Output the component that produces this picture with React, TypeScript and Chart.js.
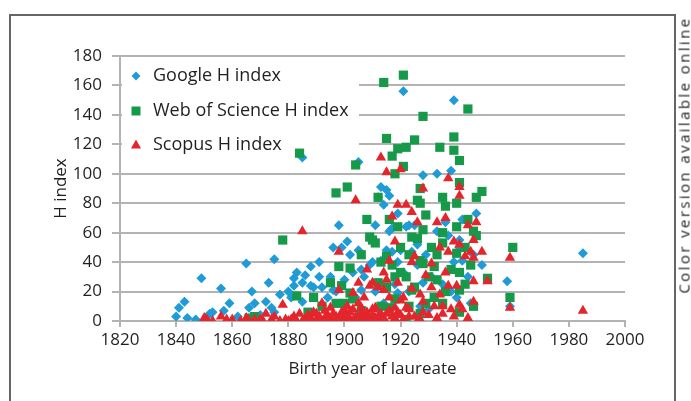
import { useEffect, useRef } from 'react';
import { Chart, registerables } from 'chart.js';

Chart.register(...registerables);

const LEGEND_LABELS = ['Google H index', 'Web of Science H index', 'Scopus H index'];
const SERIES_COLORS = ['#1f9bd7', '#17994a', '#e5242c'];
const X_TITLE = 'Birth year of laureate';
const Y_TITLE = 'H index';
const SIDE_NOTE = 'Color version available online';

// [birth year, H index]
const googlePoints: [number, number][] = [
  [1840, 3], [1841, 9], [1843, 13], [1844, 2], [1847, 1], [1849, 29], [1851, 3], [1852, 5],
  [1853, 6], [1856, 22], [1857, 7], [1859, 12], [1862, 3], [1865, 39], [1866, 9], [1867, 20],
  [1868, 12], [1870, 4], [1872, 13], [1873, 26], [1874, 9], [1875, 6], [1875, 42], [1877, 18],
  [1880, 20], [1881, 16], [1882, 24], [1882, 29], [1883, 33], [1885, 111], [1885, 26], [1885, 13],
  [1886, 31], [1888, 37], [1888, 24], [1889, 23], [1891, 40], [1891, 30], [1892, 23], [1894, 16],
  [1895, 30], [1896, 50], [1896, 21], [1897, 20], [1898, 65], [1899, 50], [1900, 28], [1901, 54],
  [1902, 45], [1903, 33], [1904, 16], [1905, 108], [1905, 48], [1906, 35], [1906, 21], [1907, 30],
  [1909, 38], [1910, 40], [1910, 55], [1911, 20], [1911, 65], [1912, 84], [1912, 8], [1913, 91],
  [1913, 41], [1914, 79], [1914, 12], [1915, 89], [1915, 48], [1916, 85], [1916, 61], [1917, 63],
  [1917, 47], [1918, 25], [1919, 73], [1919, 40], [1919, 19], [1920, 48], [1921, 156], [1921, 33],
  [1922, 64], [1923, 65], [1923, 20], [1924, 47], [1925, 65], [1926, 52], [1926, 38], [1927, 10],
  [1928, 99], [1928, 26], [1929, 45], [1930, 8], [1931, 30], [1933, 100], [1933, 61], [1934, 60],
  [1935, 25], [1936, 67], [1937, 58], [1938, 102], [1938, 20], [1939, 150], [1939, 40], [1940, 16],
  [1941, 50], [1941, 55], [1942, 41], [1942, 69], [1944, 30], [1945, 12], [1946, 45], [1947, 73],
  [1949, 38], [1958, 27], [1959, 10], [1985, 46],
];

const wosPoints: [number, number][] = [
  [1866, 2], [1868, 3], [1878, 55], [1883, 17], [1884, 114], [1887, 6], [1889, 16], [1892, 10],
  [1895, 26], [1897, 87], [1897, 12], [1898, 37], [1899, 24], [1900, 12], [1901, 91], [1902, 36],
  [1902, 19], [1903, 15], [1904, 106], [1906, 45], [1906, 7], [1907, 3], [1908, 69], [1909, 57],
  [1910, 55], [1910, 1], [1911, 53], [1912, 84], [1912, 26], [1913, 40], [1913, 10], [1914, 162],
  [1915, 124], [1915, 44], [1915, 23], [1916, 69], [1916, 9], [1917, 112], [1917, 38], [1918, 100],
  [1918, 30], [1918, 15], [1919, 117], [1919, 64], [1920, 50], [1920, 33], [1921, 167], [1921, 105],
  [1922, 118], [1922, 30], [1922, 1], [1923, 45], [1923, 10], [1924, 57], [1924, 21], [1925, 123],
  [1925, 23], [1926, 82], [1926, 56], [1927, 90], [1927, 80], [1927, 41], [1927, 5], [1928, 139],
  [1928, 62], [1928, 39], [1929, 72], [1929, 12], [1930, 30], [1931, 50], [1932, 37], [1932, 16],
  [1933, 45], [1933, 28], [1934, 118], [1935, 84], [1935, 53], [1935, 60], [1935, 12], [1936, 78],
  [1936, 20], [1938, 35], [1939, 125], [1939, 116], [1940, 80], [1940, 64], [1940, 46], [1941, 109],
  [1941, 94], [1941, 33], [1941, 21], [1941, 6], [1943, 50], [1943, 25], [1944, 144], [1944, 69],
  [1945, 38], [1946, 61], [1946, 10], [1947, 84], [1947, 58], [1949, 88], [1951, 29], [1959, 16],
  [1960, 50],
];

const scopusPoints: [number, number][] = [
  [1850, 2], [1851, 1], [1853, 0], [1856, 3], [1858, 1], [1860, 1], [1863, 0], [1865, 2],
  [1866, 0], [1868, 1], [1870, 1], [1871, 0], [1872, 5], [1874, 1], [1875, 3], [1877, 0],
  [1878, 11], [1879, 1], [1880, 0], [1881, 1], [1882, 3], [1883, 0], [1884, 5], [1885, 61],
  [1885, 0], [1886, 1], [1887, 0], [1887, 4], [1888, 2], [1889, 6], [1890, 1], [1890, 5],
  [1891, 3], [1892, 12], [1892, 0], [1893, 2], [1893, 7], [1894, 4], [1895, 1], [1895, 9],
  [1896, 5], [1896, 0], [1897, 3], [1897, 1], [1898, 21], [1898, 47], [1898, 1], [1899, 6],
  [1899, 2], [1900, 7], [1900, 2], [1901, 4], [1901, 10], [1902, 1], [1902, 6], [1903, 19],
  [1903, 8], [1903, 0], [1904, 82], [1904, 3], [1905, 12], [1905, 26], [1905, 2], [1906, 5],
  [1906, 9], [1907, 16], [1907, 2], [1908, 35], [1908, 6], [1908, 1], [1909, 24], [1909, 1],
  [1910, 26], [1910, 4], [1910, 8], [1911, 9], [1911, 2], [1912, 23], [1912, 3], [1913, 111],
  [1913, 5], [1913, 0], [1914, 33], [1914, 21], [1914, 2], [1915, 101], [1915, 28], [1915, 5],
  [1916, 41], [1916, 16], [1916, 7], [1917, 71], [1917, 3], [1918, 54], [1918, 2], [1918, 9],
  [1919, 79], [1919, 26], [1919, 6], [1920, 103], [1920, 14], [1920, 4], [1921, 16], [1921, 1],
  [1922, 79], [1922, 9], [1923, 3], [1923, 8], [1924, 74], [1924, 40], [1924, 22], [1925, 44],
  [1925, 3], [1926, 67], [1926, 0], [1927, 18], [1927, 1], [1928, 90], [1928, 13], [1928, 6],
  [1929, 31], [1930, 4], [1931, 39], [1931, 23], [1932, 10], [1933, 67], [1933, 2], [1934, 50],
  [1934, 18], [1935, 10], [1935, 5], [1936, 70], [1936, 33], [1937, 97], [1937, 47], [1937, 24],
  [1938, 8], [1939, 54], [1939, 3], [1940, 24], [1941, 91], [1941, 85], [1941, 52], [1941, 11],
  [1942, 8], [1943, 44], [1944, 65], [1944, 2], [1945, 47], [1946, 55], [1946, 43], [1946, 27],
  [1946, 13], [1947, 67], [1949, 47], [1951, 27], [1959, 9], [1959, 43], [1985, 7],
];

const toXY = (pts: [number, number][]) => pts.map(([x, y]) => ({ x, y }));

const FONT = '"Open Sans", "Liberation Sans", sans-serif';
const TEXT_COLOR = '#231f20';
const GRID_COLOR = '#b3b3b3';

const insideLegend = {
  id: 'insideLegend',
  beforeDatasetsDraw(chart: any) {
    const { ctx, chartArea: ca } = chart;
    ctx.save();
    ctx.fillStyle = '#ffffff';
    ctx.fillRect(ca.left + 2, ca.top + 4, 237, 94);
    ctx.font = `18px ${FONT}`;
    ctx.textBaseline = 'middle';
    ctx.textAlign = 'left';
    const rows = [ca.top + 20, ca.top + 55, ca.top + 89];
    const mx = ca.left + 16;
    LEGEND_LABELS.forEach((label, i) => {
      const y = rows[i];
      ctx.fillStyle = SERIES_COLORS[i];
      ctx.beginPath();
      if (i === 0) {
        const r = 4.5;
        ctx.moveTo(mx, y - r);
        ctx.lineTo(mx + r, y);
        ctx.lineTo(mx, y + r);
        ctx.lineTo(mx - r, y);
      } else if (i === 1) {
        ctx.rect(mx - 4.5, y - 4.5, 9, 9);
      } else {
        ctx.moveTo(mx, y - 5.5);
        ctx.lineTo(mx + 5, y + 3.5);
        ctx.lineTo(mx - 5, y + 3.5);
      }
      ctx.closePath();
      ctx.fill();
      ctx.fillStyle = TEXT_COLOR;
      ctx.fillText(label, ca.left + 33, y);
    });
    ctx.restore();
  },
};

export default function App() {
  const canvasRef = useRef<HTMLCanvasElement | null>(null);

  useEffect(() => {
    document.body.style.margin = '0';
    const canvas = canvasRef.current;
    if (!canvas) return;
    const chart = new Chart(canvas, {
      type: 'scatter',
      data: {
        datasets: [
          {
            label: LEGEND_LABELS[0],
            data: toXY(googlePoints),
            pointStyle: 'rectRot',
            pointRadius: 5,
            backgroundColor: SERIES_COLORS[0],
            borderColor: SERIES_COLORS[0],
            pointBorderWidth: 0,
            order: 2,
          },
          {
            label: LEGEND_LABELS[1],
            data: toXY(wosPoints),
            pointStyle: 'rect',
            pointRadius: 6.5,
            backgroundColor: SERIES_COLORS[1],
            borderColor: SERIES_COLORS[1],
            pointBorderWidth: 0,
            order: 1,
          },
          {
            label: LEGEND_LABELS[2],
            data: toXY(scopusPoints),
            pointStyle: 'triangle',
            pointRadius: 6,
            backgroundColor: SERIES_COLORS[2],
            borderColor: SERIES_COLORS[2],
            pointBorderWidth: 0,
            order: 0,
          },
        ],
      },
      options: {
        animation: false,
        responsive: true,
        maintainAspectRatio: false,
        events: [],
        layout: { padding: { left: 0, top: 56, right: 66, bottom: 0 } },
        plugins: {
          legend: { display: false },
          tooltip: { enabled: false },
        },
        scales: {
          x: {
            type: 'linear',
            min: 1820,
            max: 2000,
            afterFit: (s: any) => { s.height = 80; },
            ticks: {
              stepSize: 20,
              padding: 3,
              color: TEXT_COLOR,
              font: { family: FONT, size: 17 },
              callback: (v: any) => String(v),
            },
            grid: { drawOnChartArea: false, drawTicks: true, tickLength: 6, color: GRID_COLOR, lineWidth: 2 },
            border: { display: true, color: GRID_COLOR, width: 2 },
            title: {
              display: true,
              text: X_TITLE,
              color: TEXT_COLOR,
              font: { family: FONT, size: 17 },
              padding: { top: 0, bottom: 22 },
            },
          },
          y: {
            min: 0,
            max: 180,
            afterFit: (s: any) => { s.width = 120; },
            ticks: {
              stepSize: 20,
              padding: 10,
              color: TEXT_COLOR,
              font: { family: FONT, size: 17 },
            },
            grid: { color: GRID_COLOR, lineWidth: 2, tickLength: 8, drawTicks: true },
            border: { display: true, color: GRID_COLOR, width: 2 },
            title: {
              display: true,
              text: Y_TITLE,
              color: TEXT_COLOR,
              font: { family: FONT, size: 17 },
              padding: { top: 51, bottom: 0 },
            },
          },
        },
      },
      plugins: [insideLegend],
    });
    return () => chart.destroy();
  }, []);

  return (
    <div style={{ position: 'fixed', left: 0, top: 0, width: 691, height: 401, overflow: 'hidden', background: '#fff' }}>
      <div
        style={{
          position: 'absolute',
          left: 9,
          top: 14,
          width: 667,
          height: 420,
          border: '2px solid #666',
          boxSizing: 'border-box',
        }}
      />
      <div style={{ position: 'absolute', left: 0, top: 0, width: 691, height: 401 }}>
        <canvas ref={canvasRef} />
      </div>
      <div
        style={{
          position: 'absolute',
          left: 684,
          top: 155,
          transform: 'translate(-50%, -50%) rotate(-90deg)',
          whiteSpace: 'nowrap',
          fontFamily: FONT,
          fontSize: 15,
          letterSpacing: 2.4,
          color: '#222',
          lineHeight: 1,
        }}
      >
        {SIDE_NOTE}
      </div>
    </div>
  );
}
